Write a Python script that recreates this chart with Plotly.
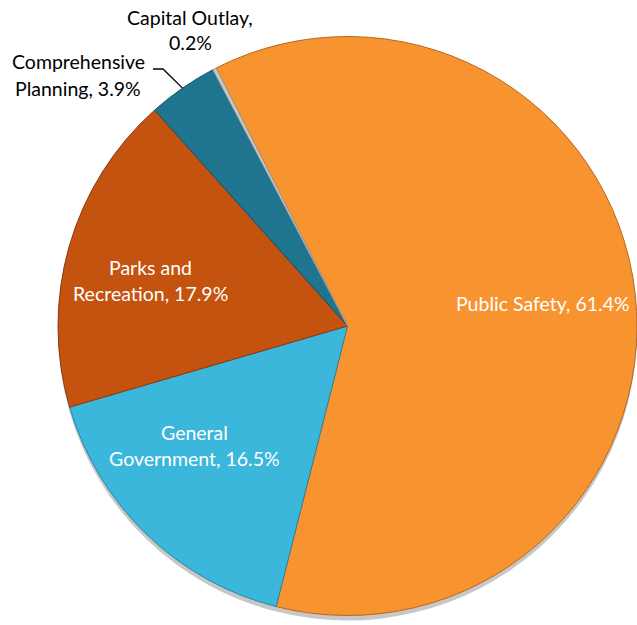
import math
import textwrap
import plotly.graph_objects as go

# Departmental share of expenditures (percent)
categories = ["Public Safety", "General Government", "Parks and Recreation",
              "Comprehensive Planning", "Capital Outlay"]
shares = [61.4, 16.5, 17.9, 3.9, 0.2]
colors = ["#F7942F", "#3AB7DB", "#C4530F", "#1F7590", "#C9C9C9"]
edge_colors = ["#B9661C", "#2786A3", "#8C390A", "#145266", "#9A9A9A"]

W, H = 637, 625
CX, CY, R = 347.5, 326.0, 289.5
ROTATION = -27.0  # first slice starts 27 degrees left of 12 o'clock


def px(x, y):
    return x / W, 1 - y / H


def label_text(name, val, width):
    return textwrap.wrap(f"{name}, {val:.1f}%", width)


# pie domain in paper units from the centre/radius in pixels
dom_x = [(CX - R) / W, min(1.0, (CX + R) / W)]
dom_y = [1 - (CY + R) / H, 1 - (CY - R) / H]
shadow_dy = 5 / H

fig = go.Figure()
# soft drop shadow beneath the pie
fig.add_trace(go.Pie(
    values=shares, labels=categories, sort=False, direction="clockwise",
    rotation=ROTATION, textinfo="none", hoverinfo="skip", showlegend=False,
    marker=dict(colors=["rgba(0,0,0,0.22)"] * len(shares), line=dict(width=0)),
    domain=dict(x=dom_x, y=[dom_y[0] - shadow_dy, dom_y[1] - shadow_dy]),
))
fig.add_trace(go.Pie(
    values=shares, labels=categories, sort=False, direction="clockwise",
    rotation=ROTATION, textinfo="none", showlegend=False,
    marker=dict(colors=colors, line=dict(color=edge_colors, width=1)),
    domain=dict(x=dom_x, y=dom_y),
))

# label placement: (centre x, first-line y) in pixels, wrap width, colour
label_layout = [
    (543, 303, 40, "white"),
    (194, 432, 18, "white"),
    (150, 267, 18, "white"),
    (78, 62, 18, "black"),
    (190, 17, 18, "black"),
]
LINE_GAP = 26
annotations = []
for name, val, (lx, ly, wrap, col) in zip(categories, shares, label_layout):
    for i, line in enumerate(label_text(name, val, wrap)):
        ax, ay = px(lx, ly + i * LINE_GAP)
        annotations.append(dict(
            x=ax, y=ay, xref="paper", yref="paper", text=line, showarrow=False,
            xanchor="center", yanchor="middle",
            font=dict(family="Lato", size=19.5, color=col),
        ))

# leader line for the Comprehensive Planning label: ends on the slice's outer arc
total = sum(shares)
start = ROTATION + 360 * sum(shares[:3]) / total
mid = start + 180 * shares[3] / total
ex = CX + R * math.sin(math.radians(mid))
ey = CY - R * math.cos(math.radians(mid))
p0 = px(153, 69)
p1 = px(163, 69)
p2 = px(ex, ey)
shapes = [dict(
    type="path", xref="paper", yref="paper",
    path=f"M {p0[0]} {p0[1]} L {p1[0]} {p1[1]} L {p2[0]} {p2[1]}",
    line=dict(color="black", width=1.3),
)]

fig.update_layout(
    width=W, height=H, margin=dict(l=0, r=0, t=0, b=0),
    paper_bgcolor="white", plot_bgcolor="white",
    annotations=annotations, shapes=shapes,
)
fig.write_html("out.html")
